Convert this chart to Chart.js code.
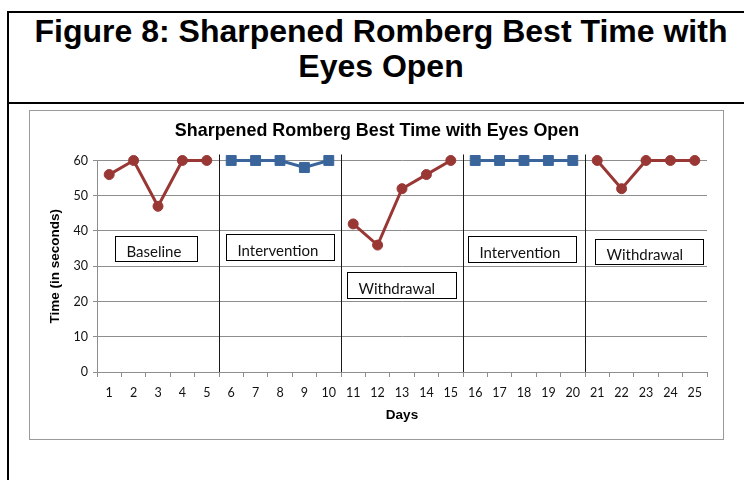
<!DOCTYPE html>
<html>
<head>
<meta charset="utf-8">
<script src="https://cdn.jsdelivr.net/npm/chart.js@4/dist/chart.umd.min.js"></script>
<style>
  body { margin: 0; background: #fff; width: 744px; height: 480px; overflow: hidden; position: relative; }
  #frameTop { position: absolute; left: 7px; top: 11px; width: 737px; height: 2px; background: #000; }
  #frameLeft { position: absolute; left: 7px; top: 11px; width: 2px; height: 469px; background: #000; }
  #frameMid { position: absolute; left: 7px; top: 102px; width: 737px; height: 2px; background: #000; }
  #fig_title {
    position: absolute; left: 9px; top: 14px; width: 744px; text-align: center;
    font-family: "Liberation Sans", Arial, sans-serif; font-weight: bold; font-size: 32px; line-height: 35px;
  }
  #chart_box { position: absolute; left: 29px; top: 110px; width: 695px; height: 330px; border: 1px solid #9a9a9a; box-sizing: border-box; }
  #chart_wrap { position: absolute; left: 39px; top: 111px; width: 676px; height: 328px; }
</style>
</head>
<body>
<div id="frameTop"></div>
<div id="frameLeft"></div>
<div id="frameMid"></div>
<div id="fig_title">Figure 8: Sharpened Romberg Best Time with<br>Eyes Open</div>
<div id="chart_box"></div>
<div id="chart_wrap"><canvas id="romberg_chart"></canvas></div>
<script>
//Days 1-25, five days per phase
const days = [];
for(let i = 1;i <= 25;i++){
    days.push(String(i));
}
const y_ticks = [0, 10, 20, 30, 40, 50, 60];

//Values, one array per phase
const baseline = [56, 60, 47, 60, 60];
const intervention_1 = [60, 60, 60, 58, 60];
const withdrawal_1 = [42, 36, 52, 56, 60];
const intervention_2 = [60, 60, 60, 60, 60];
const withdrawal_2 = [60, 52, 60, 60, 60];

const phase_names = ["Baseline", "Intervention", "Withdrawal", "Intervention", "Withdrawal"];

//Where the label boxes sit, in chart units (category index, seconds)
const label_boxes = [
    {x0: 0.24, x1: 3.59, y0: 38.7, y1: 31.4},
    {x0: 4.79, x1: 9.21, y0: 39.1, y1: 31.7},
    {x0: 9.76, x1: 14.2, y0: 28.3, y1: 20.9},
    {x0: 14.72, x1: 19.13, y0: 38.5, y1: 31.1},
    {x0: 19.92, x1: 24.32, y0: 37.8, y1: 30.7}
];

const gap = [null, null, null, null, null];
//red line = no treatment phases, blue line = intervention phases
const red_series = baseline.concat(gap, withdrawal_1, gap, withdrawal_2);
const blue_series = gap.concat(intervention_1, gap, intervention_2, gap);

const red = "#993735";
const blue = "#3A659B";
const grid_gray = "#8E8E8E";

//Draws the phase change lines and the boxed phase names
const phasePlugin = {
    id: "phaseLines",
    afterDatasetsDraw(chart){
        const ctx = chart.ctx;
        const xs = chart.scales.x;
        const ys = chart.scales.y;
        const area = chart.chartArea;
        ctx.save();
        //divider between phases
        ctx.strokeStyle = "#1a1a1a";
        ctx.lineWidth = 1;
        for(let p = 1;p < 5;p++){
            var xp = Math.round((xs.getPixelForValue(p*5 - 1) + xs.getPixelForValue(p*5)) / 2) + 0.5;
            ctx.beginPath();
            ctx.moveTo(xp, area.top - 6);
            ctx.lineTo(xp, area.bottom);
            ctx.stroke();
        }
        //boxes
        ctx.font = "15px Lato";
        ctx.textAlign = "left";
        ctx.textBaseline = "alphabetic";
        for(let i = 0;i < label_boxes.length;i++){
            var b = label_boxes[i];
            var l = Math.round(xs.getPixelForValue(b.x0)) + 0.5;
            var r = Math.round(xs.getPixelForValue(b.x1)) + 0.5;
            var t = Math.round(ys.getPixelForValue(b.y0)) + 0.5;
            var bt = Math.round(ys.getPixelForValue(b.y1)) + 0.5;
            ctx.fillStyle = "#fff";
            ctx.fillRect(l, t, r - l, bt - t);
            ctx.strokeStyle = "#000";
            ctx.strokeRect(l, t, r - l, bt - t);
            ctx.fillStyle = "#111";
            ctx.fillText(phase_names[i], l + 11, bt - 5);
        }
        ctx.restore();
    }
};

var ctx_chart = document.getElementById("romberg_chart").getContext("2d");
const chrt = new Chart(ctx_chart, {
    type: "line",
    data: {
        labels: days,
        datasets: [{
            data: red_series,
            borderColor: red,
            backgroundColor: red,
            borderWidth: 3,
            pointStyle: "circle",
            pointRadius: 5,
            pointBorderWidth: 1,
            spanGaps: false,
            clip: false,
            tension: 0
        }, {
            data: blue_series,
            borderColor: blue,
            backgroundColor: blue,
            borderWidth: 3,
            pointStyle: "rect",
            pointRadius: 7,
            pointBorderWidth: 1,
            spanGaps: false,
            clip: false,
            tension: 0
        }]
    },
    options: {
        responsive: true,
        maintainAspectRatio: false,
        animation: false,
        devicePixelRatio: 1,
        layout: { padding: { left: 0, right: 0, top: 0, bottom: 0 } },
        plugins: {
            legend: { display: false },
            tooltip: { enabled: false },
            title: {
                display: true,
                text: "Sharpened Romberg Best Time with Eyes Open",
                color: "#000",
                font: { family: "Liberation Sans", size: 17.9, weight: "bold", lineHeight: 1.2 },
                padding: { top: 9, bottom: 19 }
            }
        },
        scales: {
            x: {
                type: "category",
                offset: true,
                grid: { display: true, drawOnChartArea: false, drawTicks: true, tickLength: 5, offset: true, color: grid_gray },
                border: { display: true, color: grid_gray },
                ticks: { color: "#111", font: { family: "Lato", size: 12.5 }, padding: 8, maxRotation: 0, autoSkip: false },
                title: { display: true, text: "Days", color: "#000", font: { family: "Liberation Sans", size: 13.5, weight: "bold" }, padding: { top: 0, bottom: 16 } },
                afterFit(scale){ scale.height = 67; }
            },
            y: {
                min: 0,
                max: 60,
                afterBuildTicks(scale){ scale.ticks = y_ticks.map(v => ({value: v})); },
                grid: { color: grid_gray, tickLength: 4 },
                border: { display: true, color: grid_gray },
                ticks: { color: "#111", font: { family: "Lato", size: 12.5 }, padding: 5 },
                title: { display: true, text: "Time (in seconds)", color: "#000", font: { family: "Liberation Sans", size: 13.5, weight: "bold" }, padding: { top: 8, bottom: 0 } },
                afterFit(scale){ scale.width = 58; }
            }
        }
    },
    plugins: [phasePlugin]
});
</script>
</body>
</html>
